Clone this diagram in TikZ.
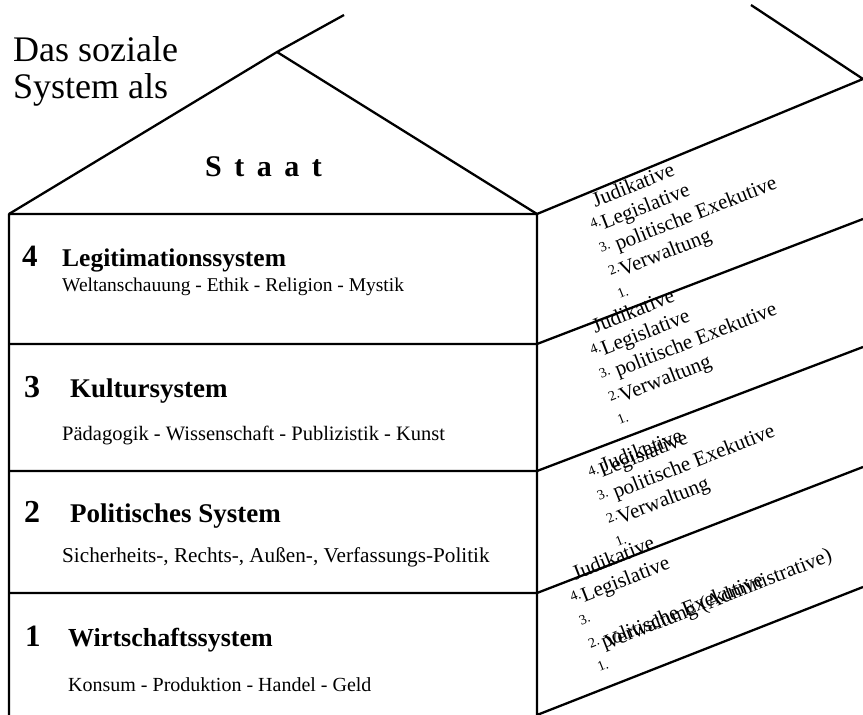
\documentclass[tikz,border=0pt]{standalone}
\usepackage{fontspec}
\setmainfont{Liberation Serif}

\begin{document}
\begin{tikzpicture}[x=1pt,y=1pt,
  wall/.style={line width=2.3pt, line join=round},
  label/.style={anchor=base west, inner sep=0pt},
  rowno/.style={label, font=\fontsize{31}{31}\selectfont\bfseries},
  rowtitle/.style={label, font=\fontsize{25.5}{25.5}\selectfont\bfseries},
  rowsub/.style={label, font=\fontsize{19.5}{19.5}\selectfont},
  side/.style={label, transform shape, font=\fontsize{21}{21}\selectfont},
  sideno/.style={label, transform shape, font=\fontsize{14}{14}\selectfont}]
  \useasboundingbox (0,0) rectangle (863,715);

  % house outline
  \coordinate (eaveL) at (9,501);
  \coordinate (peak) at (277,663);
  \coordinate (eaveR) at (537,501);
  \coordinate (ridge) at (344,700);
  \coordinate (backT) at (751,710);
  \coordinate (backR) at (863,636);
  \coordinate (footL) at (9,0);
  \coordinate (footR) at (537,0);
  \coordinate (backF) at (863,128);
  \draw[wall] (eaveL) -- (peak) -- (eaveR);
  \draw[wall] (peak) -- (ridge);
  \draw[wall] (backT) -- (backR) -- (eaveR);
  \draw[wall] (footL) -- (eaveL) -- (eaveR) -- (footR) -- (backF);
  \foreach \f/\yl/\yr in {3/371/496, 2/244/368, 1/122/248}{
    \coordinate (floorL\f) at (9,\yl);
    \coordinate (floorR\f) at (537,\yl);
    \coordinate (floorB\f) at (863,\yr);
    \draw[wall] (floorL\f) -- (floorR\f) -- (floorB\f);
  }

  % roof texts
  \node[label, font=\fontsize{36}{36}\selectfont] (das) at (13,653) {Das soziale};
  \node[label, font=\fontsize{36}{36}\selectfont] (system) at (13,616) {System als};
  \node[label, font=\fontsize{30}{30}\selectfont\bfseries] (staat) at (205,538)
    {S\hspace{12.5pt}t\hspace{12.5pt}a\hspace{12.5pt}a\hspace{12.5pt}t};

  % front rows
  \node[rowno] (no4) at (22,448) {4};
  \node[rowtitle] (legit) at (62,448) {Legitimationssystem};
  \node[rowsub] (legitsub) at (62,423) {Weltanschauung - Ethik - Religion - Mystik};
  \node[rowno, font=\fontsize{32}{32}\selectfont\bfseries] (no3) at (24,317) {3};
  \node[rowtitle, font=\fontsize{27}{27}\selectfont\bfseries] (kultur) at (70,317) {Kultursystem};
  \node[rowsub, font=\fontsize{20.5}{20.5}\selectfont] (kultursub) at (62,274) {Pädagogik - Wissenschaft - Publizistik - Kunst};
  \node[rowno, font=\fontsize{32}{32}\selectfont\bfseries] (no2) at (24,192) {2};
  \node[rowtitle, font=\fontsize{27}{27}\selectfont\bfseries] (polit) at (70,192) {Politisches System};
  \node[rowsub, font=\fontsize{21.2}{21.2}\selectfont] (politsub) at (62,152) {Sicherheits-, Rechts-, Außen-, Verfassungs-Politik};
  \node[rowno] (no1) at (25,68) {1};
  \node[rowtitle, font=\fontsize{26}{26}\selectfont\bfseries] (wirt) at (68,68) {Wirtschaftssystem};
  \node[rowsub, font=\fontsize{20}{20}\selectfont] (wirtsub) at (68,23) {Konsum - Produktion - Handel - Geld};

  % side lists
  \foreach \b/\ox/\oy in {a/592/486, b/592/360}{
    \begin{scope}[shift={(\ox,\oy)}, rotate=21.5]
      \node[side] (jud\b) at (11,19) {Judikative};
      \node[sideno] (n4\b) at (0,0) {4.};
      \node[side] (leg\b) at (11,-5) {Legislative};
      \node[sideno] (n3\b) at (0,-25) {3.};
      \node[side] (exe\b) at (16,-30) {politische Exekutive};
      \node[sideno] (n2\b) at (0,-50) {2.};
      \node[side] (ver\b) at (11,-55) {Verwaltung};
      \node[sideno] (n1\b) at (0,-75) {1.};
    \end{scope}
  }
  \begin{scope}[shift={(590,238)}, rotate=21.5]
    \node[sideno] (n4c) at (0,0) {4.};
    \node[side] (judc) at (14,-1) {Judikative};
    \node[side] (legc) at (11,-5) {Legislative};
    \node[sideno] (n3c) at (0,-25) {3.};
    \node[side] (exec) at (16,-30) {politische Exekutive};
    \node[sideno] (n2c) at (0,-50) {2.};
    \node[side] (verc) at (11,-55) {Verwaltung};
    \node[sideno] (n1c) at (0,-75) {1.};
  \end{scope}
  \begin{scope}[shift={(572,113)}, rotate=21.5]
    \node[side] (judd) at (11,19) {Judikative};
    \node[sideno] (n4d) at (0,0) {4.};
    \node[side] (legd) at (11,-5) {Legislative};
    \node[sideno] (n3d) at (0,-25) {3.};
    \node[sideno] (n2d) at (0,-50) {2.};
    \node[side] (exed) at (13,-55) {politische Exekutive};
    \node[side] (verd) at (16,-57) {Verwaltung (Administrative)};
    \node[sideno] (n1d) at (0,-75) {1.};
  \end{scope}
\end{tikzpicture}
\end{document}
